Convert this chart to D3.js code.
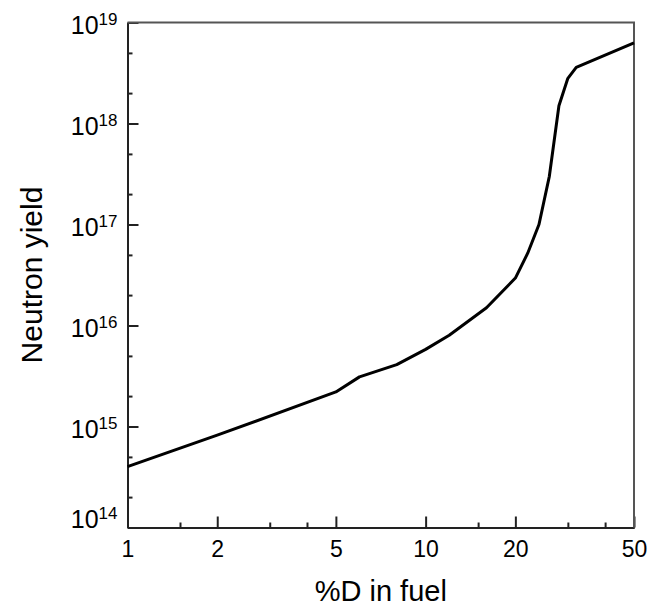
<html>
	<head>
		<script type="text/javascript" src="https://cdnjs.cloudflare.com/ajax/libs/d3/7.8.5/d3.min.js"></script>
		<style>
			body{ margin:0; background:#fff; }
			svg{ font-family:"Liberation Sans", Arial, sans-serif; }
			.curve{ fill:none; stroke:#000; stroke-width:3; stroke-linejoin:round; }
			.axis path, .axis line{ stroke:#222; stroke-width:2; }
		</style>
	</head>
	<body>
		<div id="container"></div>
		<script type="text/javascript">

			// %D in fuel vs neutron yield
			var pctD = [1, 2, 5, 6, 8, 10, 12, 16, 20, 22, 24, 26, 28, 30, 32, 50];
			var yieldN = [4.0e14, 8.2e14, 2.2e15, 3.1e15, 4.1e15, 5.8e15, 8.0e15, 1.5e16,
				2.95e16, 5.2e16, 1.0e17, 3.0e17, 1.5e18, 2.8e18, 3.6e18, 6.3e18];

			var xMajor = [1, 2, 5, 10, 20, 50];
			var xMinor = [1.5, 3, 4, 15, 30, 40];
			var yMajorExp = [14, 15, 16, 17, 18, 19];
			var yMinor = [2e14, 5e14, 2e15, 5e15, 2e16, 5e16, 2e17, 5e17, 2e18, 5e18];

			var plotL = 127.5, plotR = 634, plotT = 22.5, plotB = 527.5;

			var svg = d3.select("#container")
				.append("svg")
					.attr("width", 669)
					.attr("height", 608);

			var x = d3.scaleLog().domain([1, 50]).range([plotL, plotR]);
			var y = d3.scaleLog().domain([1e14, 1e19]).range([plotB, plotT]);

			// minor ticks first
			svg.append("g")
				.attr("class", "axis")
				.attr("transform", "translate(0," + plotB + ")")
				.call(d3.axisBottom(x).tickValues(xMinor).tickSize(-5).tickSizeOuter(0).tickFormat(""));

			svg.append("g")
				.attr("class", "axis")
				.attr("transform", "translate(" + plotL + ",0)")
				.call(d3.axisLeft(y).tickValues(yMinor).tickSize(-5).tickSizeOuter(0).tickFormat(""));

			var xAxis = svg.append("g")
				.attr("class", "axis")
				.attr("transform", "translate(0," + plotB + ")")
				.call(d3.axisBottom(x).tickValues(xMajor).tickSize(-11).tickSizeOuter(0)
					.tickPadding(13).tickFormat(function(d){ return d; }));
			xAxis.selectAll("text")
				.attr("font-size", 23)
				.attr("font-family", "Liberation Sans, Arial, sans-serif")
				.attr("fill", "#000");

			svg.append("g")
				.attr("class", "axis")
				.attr("transform", "translate(" + plotL + ",0)")
				.call(d3.axisLeft(y).tickValues(yMajorExp.map(function(e){ return Math.pow(10, e); }))
					.tickSize(-11).tickSizeOuter(0).tickFormat(""));

			// y labels with superscript (bottom one kept above the x labels)
			var ylab = svg.append("g").selectAll("text").data(yMajorExp).enter().append("text")
				.attr("x", plotL - 10)
				.attr("y", function(d){ return Math.min(y(Math.pow(10, d)) + 11, plotB + 0.5); })
				.attr("text-anchor", "end")
				.attr("font-size", 25)
				.attr("fill", "#000");
			ylab.append("tspan").text("10");
			ylab.append("tspan")
				.attr("font-size", 17)
				.attr("dy", -9)
				.text(function(d){ return d; });

			// frame top and right
			svg.append("path")
				.attr("d", "M" + plotL + "," + plotT + "H" + plotR + "V" + plotB)
				.attr("fill", "none")
				.attr("stroke", "#555")
				.attr("stroke-width", 2);

			var line = d3.line()
				.x(function(d, i){ return x(pctD[i]); })
				.y(function(d, i){ return y(yieldN[i]); });

			svg.append("path")
				.datum(yieldN)
				.attr("class", "curve")
				.attr("d", line);

			svg.append("text")
				.attr("x", (plotL + plotR) / 2)
				.attr("y", 601)
				.attr("text-anchor", "middle")
				.attr("font-size", 29)
				.text("%D in fuel");

			svg.append("text")
				.attr("transform", "translate(42," + ((plotT + plotB) / 2) + ") rotate(-90)")
				.attr("text-anchor", "middle")
				.attr("font-size", 30)
				.text("Neutron yield");

		</script>
	</body>
</html>
